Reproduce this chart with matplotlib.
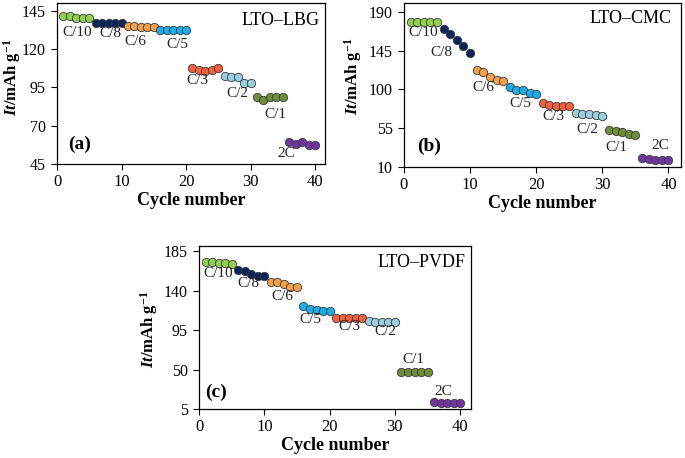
import matplotlib
matplotlib.use("Agg")
import matplotlib.pyplot as plt

plt.rcParams['font.family'] = ['Liberation Serif', 'DejaVu Serif']
plt.rcParams['mathtext.fontset'] = 'custom'
plt.rcParams['mathtext.rm'] = 'Liberation Serif'
plt.rcParams['mathtext.it'] = 'Liberation Serif:italic'
plt.rcParams['mathtext.bf'] = 'Liberation Serif:bold'
plt.rcParams['mathtext.bfit'] = 'Liberation Serif:italic:bold'

# datos
ciclos = list(range(1, 41))
tasas = ['C/10', 'C/8', 'C/6', 'C/5', 'C/3', 'C/2', 'C/1', '2C']
colores = ['#92D050', '#0B2459', '#F4A04A', '#1BAEEA', '#F2603E', '#9ACFE0', '#6E8C3A', '#7035A0']

cap_lbg = [141.2, 141.2, 140.3, 140.3, 140.3,
           137.0, 137.0, 137.0, 137.0, 137.0,
           135.0, 135.0, 134.3, 134.3, 134.3,
           132.6, 132.6, 132.6, 132.6, 132.6,
           107.6, 106.3, 105.5, 106.3, 107.6,
           102.5, 101.8, 101.8, 97.6, 97.6,
           89.0, 86.9, 88.8, 88.8, 88.8,
           59.1, 58.2, 59.1, 57.4, 57.4]
cap_cmc = [178.4, 178.4, 178.4, 178.4, 178.4,
           170.6, 164.8, 157.1, 150.5, 142.8,
           122.3, 120.3, 114.5, 110.6, 109.5,
           102.9, 99.0, 99.0, 96.3, 94.4,
           84.3, 81.6, 81.2, 81.2, 81.2,
           72.7, 71.9, 71.1, 70.0, 68.8,
           53.3, 51.8, 50.2, 47.9, 47.5,
           20.4, 19.3, 18.5, 18.5, 17.7]
cap_pvdf = [172.5, 172.5, 171.7, 171.7, 170.2,
            163.8, 161.9, 159.2, 156.2, 156.2,
            149.8, 149.4, 147.1, 144.1, 144.1,
            122.1, 119.4, 117.5, 116.8, 116.8,
            108.5, 108.5, 108.5, 108.5, 108.5,
            105.0, 103.9, 103.9, 103.9, 103.9,
            47.4, 47.4, 47.4, 47.4, 47.4,
            12.6, 12.2, 11.5, 11.5, 11.5]

# posiciones de las etiquetas de tasa (ciclo, capacidad)
etq_lbg = [(3.2, 131), (8.2, 130), (12.2, 124.7), (18.6, 123), (21.7, 99.5), (27.9, 91), (33.8, 77), (35.5, 52)]
etq_cmc = [(2.9, 165.6), (5.7, 143.5), (12.0, 102), (17.6, 84.3), (22.6, 68.8), (27.7, 53.3), (32.2, 33.2), (38.8, 35)]
etq_pvdf = [(3.0, 159.2), (7.6, 147.9), (12.8, 132.7), (17.0, 107), (23.0, 98.6), (28.5, 93), (32.8, 61.8), (37.4, 24.7)]

paneles = [
    ('LTO\u2013LBG', '(a)', cap_lbg, etq_lbg, [45, 70, 95, 120, 145], (45, 150), 41.55,
     [57 / 685, 1 - 164 / 458, 268 / 685, 161 / 458], (0.04, 0.12), (0.98, 0.89), (-0.128, 0.54)),
    ('LTO\u2013CMC', '(b)', cap_cmc, etq_cmc, [10, 55, 100, 145, 190], (10, 201), 41.9,
     [404 / 685, 1 - 167 / 458, 277 / 685, 164.5 / 458], (0.047, 0.128), (0.967, 0.9), (-0.145, 0.55)),
    ('LTO\u2013PVDF', '(c)', cap_pvdf, etq_pvdf, [5, 50, 95, 140, 185], (5, 190.7), 41.65,
     [199 / 685, 1 - 409 / 458, 272 / 685, 163 / 458], (0.022, 0.1), (0.978, 0.9), (-0.145, 0.49)),
]

fig = plt.figure(figsize=(6.85, 4.58), dpi=100)

for nombre, letra, cap, etq, yticks, ylim, xmax, pos, pos_letra, pos_nombre, pos_ylab in paneles:
    ax = fig.add_axes(pos)
    for i in range(8):
        ax.plot(ciclos[i * 5:(i + 1) * 5], cap[i * 5:(i + 1) * 5], 'o', ms=6,
                color=colores[i], mec='#3a3a3a', mew=0.6, zorder=3)
        ax.text(etq[i][0], etq[i][1], tasas[i], fontsize=11, ha='center', va='center', color='#222222')
    ax.set_xlim(0, xmax)
    ax.set_ylim(*ylim)
    ax.set_xticks([0, 10, 20, 30, 40])
    ax.set_yticks(yticks)
    ax.tick_params(direction='out', length=4, width=0.8, labelsize=12)
    ax.tick_params(axis='y', pad=4, labelsize=11.5)
    for s in ax.spines.values():
        s.set_linewidth(0.9)
    ax.set_xlabel('Cycle number', fontsize=13, fontweight='bold', labelpad=1)
    ax.set_ylabel(r'$\mathbfit{It}$$\mathbf{/mAh\ g^{-1}}$', fontsize=12)
    ax.yaxis.set_label_coords(pos_ylab[0], pos_ylab[1])
    ax.text(pos_letra[0], pos_letra[1], letra, transform=ax.transAxes, fontsize=14,
            fontweight='bold', ha='left', va='center')
    ax.text(pos_nombre[0], pos_nombre[1], nombre, transform=ax.transAxes, fontsize=13,
            ha='right', va='center')

fig.savefig('out.png', dpi=100)
